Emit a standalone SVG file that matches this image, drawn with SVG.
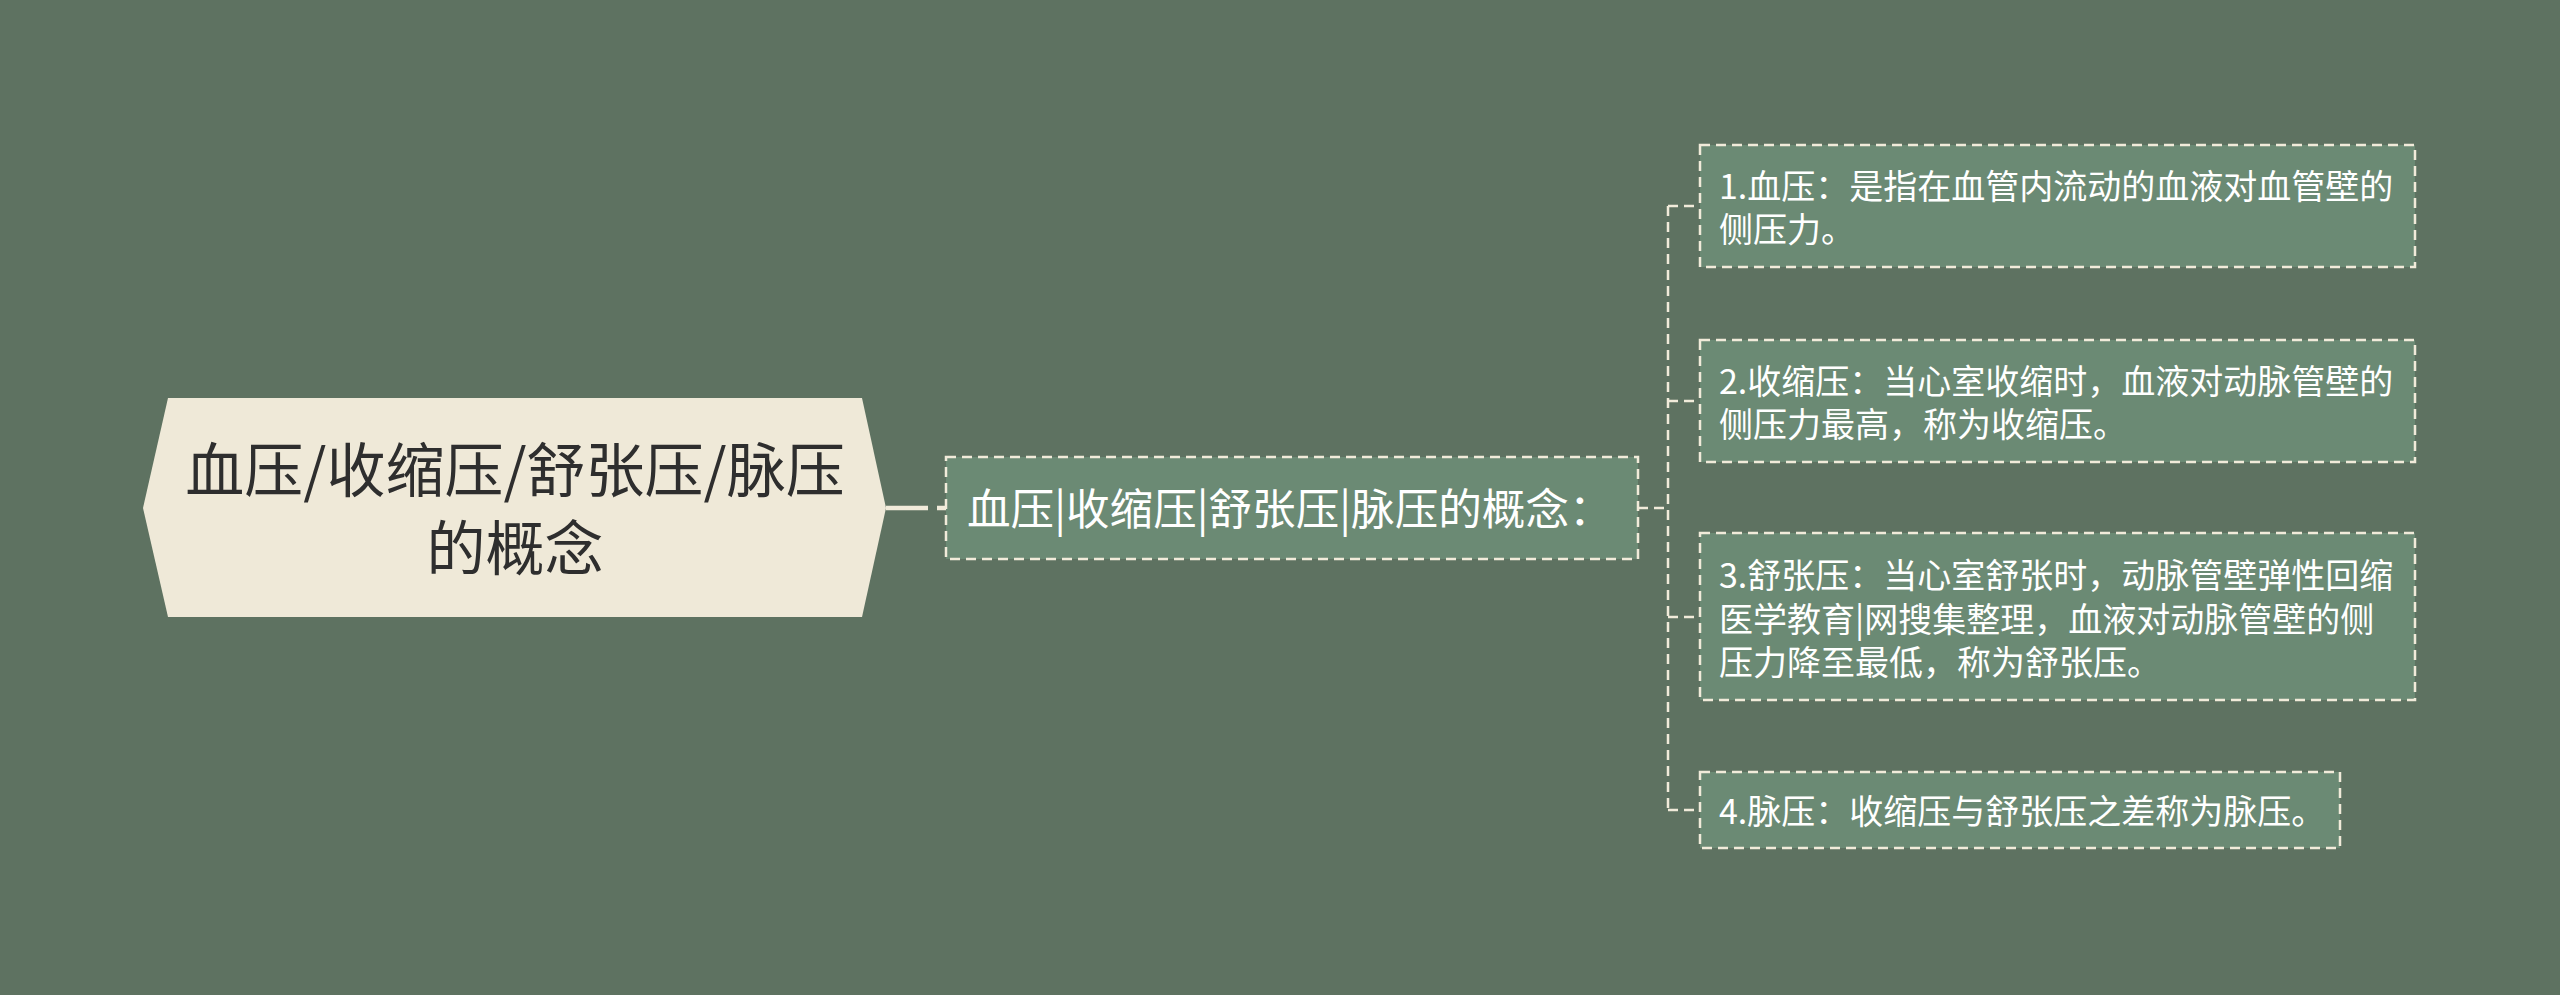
<svg xmlns="http://www.w3.org/2000/svg" width="2560" height="995" viewBox="0 0 2560 995">
<style>
.bg{fill:#5e7261}
.root{fill:#efe9d8}
.rt{font-family:"Noto Sans CJK SC","Liberation Sans",sans-serif;font-size:59px;fill:#2e2e2e;text-anchor:middle}
.box{fill:#6b8a74;stroke:#f1ebda;stroke-width:2.5;stroke-dasharray:10 6}
.ct{font-family:"Noto Sans CJK SC","Liberation Sans",sans-serif;font-size:43.6px;fill:#ffffff}
.lt{font-family:"Noto Sans CJK SC","Liberation Sans",sans-serif;font-size:34px;fill:#ffffff}
.con{fill:none;stroke:#f1ebda;stroke-width:2.5;stroke-dasharray:10 6}
.main{fill:none;stroke:#f1ebda;stroke-width:4.5;stroke-dasharray:42 9 10 40}
</style>
<rect class="bg" x="0" y="0" width="2560" height="995"/>
<g id="connectors">
<line class="main" x1="886" y1="508" x2="946" y2="508"/>
<path class="con" d="M1638 508 H1668"/>
<path class="con" d="M1668 206 V810"/>
<path class="con" d="M1668 206 H1700"/>
<path class="con" d="M1668 401 H1700"/>
<path class="con" d="M1668 617 H1700"/>
<path class="con" d="M1668 810 H1700"/>
</g>
<g id="root">
<polygon class="root" points="143,508 168,398 862,398 886,508 862,617 168,617"/>
<text class="rt" x="515" y="492">血压/收缩压/舒张压/脉压<tspan x="515" dy="78">的概念</tspan></text>
</g>
<g id="concept">
<rect class="box" x="946" y="457" width="692" height="102"/>
<text class="ct" x="967" y="525">血压|收缩压|舒张压|脉压的概念：</text>
</g>
<g id="leaf1">
<rect class="box" x="1700" y="145" width="715" height="122"/>
<text class="lt" x="1719" y="199">1.血压：是指在血管内流动的血液对血管壁的<tspan x="1719" dy="43">侧压力。</tspan></text>
</g>
<g id="leaf2">
<rect class="box" x="1700" y="340" width="715" height="122"/>
<text class="lt" x="1719" y="394">2.收缩压：当心室收缩时，血液对动脉管壁的<tspan x="1719" dy="43">侧压力最高，称为收缩压。</tspan></text>
</g>
<g id="leaf3">
<rect class="box" x="1700" y="533" width="715" height="167"/>
<text class="lt" x="1719" y="588">3.舒张压：当心室舒张时，动脉管壁弹性回缩<tspan x="1719" dy="43.5">医学教育|网搜集整理，血液对动脉管壁的侧</tspan><tspan x="1719" dy="43.5">压力降至最低，称为舒张压。</tspan></text>
</g>
<g id="leaf4">
<rect class="box" x="1700" y="772" width="640" height="76"/>
<text class="lt" x="1719" y="824">4.脉压：收缩压与舒张压之差称为脉压。</text>
</g>
</svg>
